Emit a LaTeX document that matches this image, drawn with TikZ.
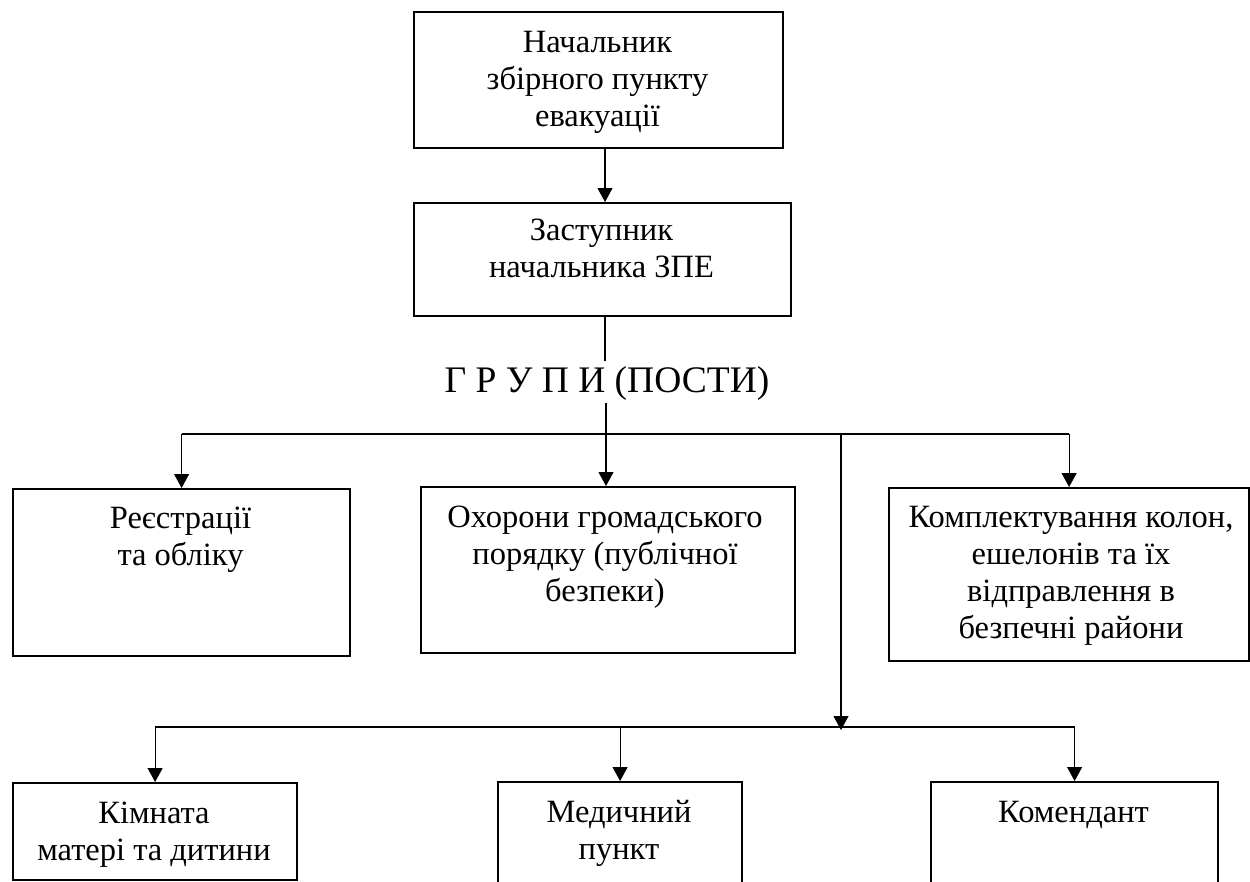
\documentclass[tikz,border=0pt]{standalone}
\usepackage{fontspec}
\setmainfont{Liberation Serif}
\usetikzlibrary{arrows.meta}
\tikzset{
  box/.style={draw, line width=2.2pt, rectangle, inner sep=0pt, anchor=north west},
  txt/.style={align=center, inner sep=0pt, anchor=north, font=\fontsize{32.5}{37}\selectfont},
  conn/.style={line width=1.1pt},
  arr/.style={line width=1.1pt, -{Triangle[width=15pt,length=14pt]}}
}
\newcommand{\fs}{\rule{0pt}{26pt}}
\begin{document}
\begin{tikzpicture}[x=1pt,y=-1pt]
\useasboundingbox (0,0) rectangle (1250,881);
\clip (0,0) rectangle (1250,881);
% boxes
\node[box, minimum width=369pt, minimum height=136pt] (nach) at (413,11) {};
\node[box, minimum width=377pt, minimum height=113pt] (zam) at (413,202) {};
\node[box, minimum width=337pt, minimum height=167pt] (reg) at (12,488) {};
\node[box, minimum width=374pt, minimum height=166pt] (ohor) at (420,486) {};
\node[box, minimum width=360pt, minimum height=173pt] (kompl) at (888,487) {};
\node[box, minimum width=284pt, minimum height=97pt] (kimn) at (12,782) {};
\node[box, minimum width=244pt, minimum height=140pt] (med) at (497,781) {};
\node[box, minimum width=287pt, minimum height=140pt] (kom) at (930,781) {};
% texts
\node[txt] (tnach) at (597.5,26) {\fs Начальник\\збірного пункту\\евакуації};
\node[txt] (tzam) at (601.5,214) {\fs Заступник\\начальника ЗПЕ};
\node[txt] (treg) at (180.5,502) {\fs Реєстрації\\та обліку};
\node[txt] (tohor) at (605,501) {\fs Охорони громадського\\порядку (публічної\\безпеки)};
\node[txt] (tkompl) at (1071,501) {\fs Комплектування колон,\\ешелонів та їх\\відправлення в\\безпечні райони};
\node[txt] (tkimn) at (154,797) {\fs Кімната\\матері та дитини};
\node[txt] (tmed) at (619,796) {\fs Медичний\\пункт};
\node[txt] (tkom) at (1073.5,796) {\fs Комендант};
% groups label
\node[anchor=base, inner xsep=0pt, inner ysep=5pt, text height=26pt, text depth=6pt,
      font=\fontsize{37.5}{44}\selectfont] (grp) at (607,392) {Г Р У П И (ПОСТИ)};
% coordinates for buses
\coordinate (bus1L) at (reg.north |- 0,434);
\coordinate (bus1R) at (kompl.north |- 0,434);
\coordinate (bus1M) at (841,434);
\coordinate (bus2L) at (kimn.north |- 0,727);
\coordinate (bus2R) at (kom.north |- 0,727);
\coordinate (bus2M) at (841,730);
% connectors
\draw[arr] (605,147) coordinate (a1) -- (605,202) coordinate (a2);
\draw[conn] (zam.south -| 605,0) -- (grp.north -| 605,0);
\draw[conn] (bus1L) -- (bus1R);
\draw[arr] (grp.south -| 606,0) -- (ohor.north -| 606,0);
\draw[arr] (bus1L) -- (reg.north);
\draw[arr] (bus1R) -- (kompl.north);
\draw[arr] (bus1M) -- (bus2M);
\draw[conn] (bus2L) -- (bus2R);
\draw[arr] (bus2L) -- (kimn.north);
\draw[arr] (med.north |- bus2L) -- (med.north);
\draw[arr] (bus2R) -- (kom.north);
\end{tikzpicture}
\end{document}
